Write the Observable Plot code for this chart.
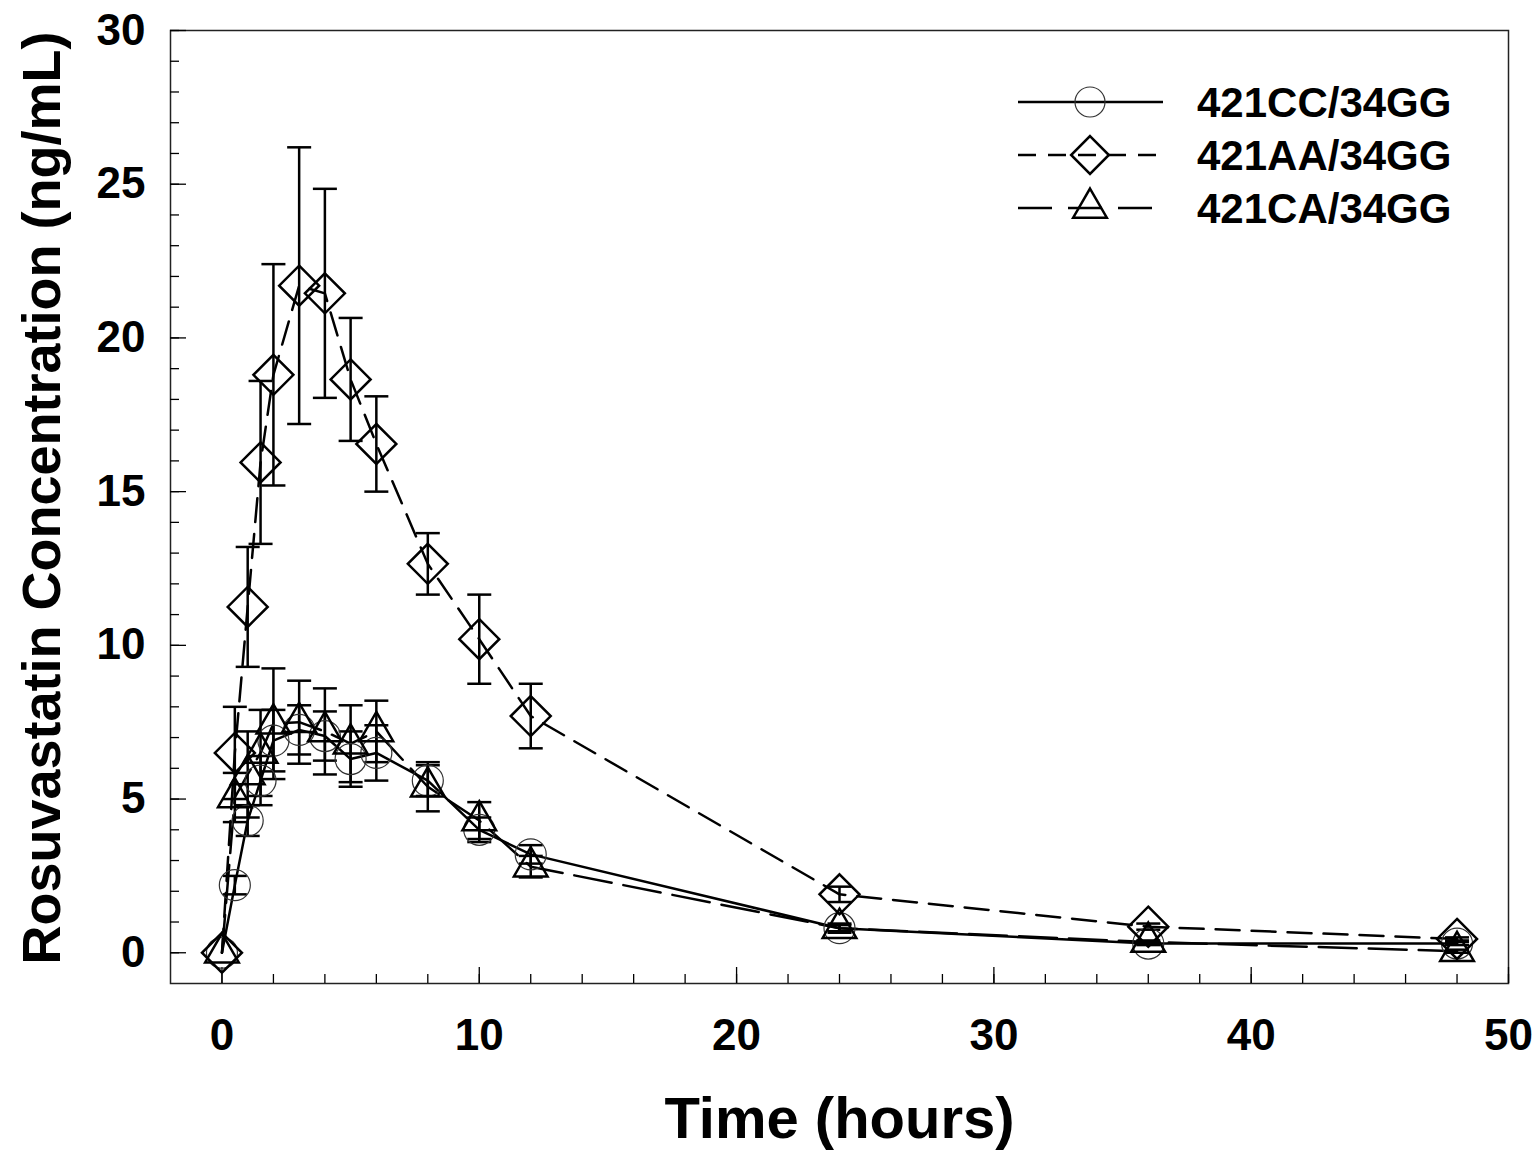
<!DOCTYPE html>
<html><head><meta charset="utf-8">
<script src="https://cdn.jsdelivr.net/npm/d3@7"></script>
<script src="https://cdn.jsdelivr.net/npm/@observablehq/plot@0.6"></script>
<style>
body{margin:0;background:#fff;}
#wrap{position:relative;width:1540px;height:1153px;}
#legend{position:absolute;left:0;top:0;pointer-events:none;}
svg text{font-family:"Liberation Sans",Arial,sans-serif;}
</style></head><body><div id="wrap"></div>
<script>
const times = [0, 0.5, 1, 1.5, 2, 3, 4, 5, 6, 8, 10, 12, 24, 36, 48];
const seriesNames = ["421CC/34GG", "421AA/34GG", "421CA/34GG"];
const ccMean = [0, 2.2, 4.3, 5.6, 6.9, 7.25, 7.05, 6.3, 6.5, 5.6, 4.0, 3.2, 0.8, 0.3, 0.3];
const ccSd   = [0, 0.3, 0.5, 0.8, 1.0, 0.8, 0.8, 0.9, 0.9, 0.5, 0.4, 0.3, 0.15, 0.05, 0.05];
const aaMean = [0, 6.5, 11.25, 15.95, 18.8, 21.7, 21.45, 18.65, 16.55, 12.65, 10.2, 7.7, 1.9, 0.85, 0.45];
const aaSd   = [0, 1.5, 1.95, 2.65, 3.6, 4.5, 3.4, 2.0, 1.55, 1.0, 1.45, 1.05, 0.25, 0.1, 0.05];
const caMean = [0, 5.05, 5.8, 6.5, 7.45, 7.5, 7.2, 6.8, 7.2, 5.4, 4.3, 2.8, 0.8, 0.35, 0.05];
const caSd   = [0, 0.8, 1.4, 1.4, 1.8, 1.35, 1.4, 1.25, 1.0, 0.8, 0.6, 0.35, 0.1, 0.05, 0.05];
const xTicksMajor = [0, 10, 20, 30, 40, 50];
const xTicksMinor = d3.range(0, 51, 2);
const yTicksMajor = [0, 5, 10, 15, 20, 25, 30];
const yTicksMinor = d3.range(0, 31, 1);
const xTitle = "Time (hours)";
const yTitle = "Rosuvastatin Concentration (ng/mL)";

const means = [ccMean, aaMean, caMean];
const sds = [ccSd, aaSd, caSd];
const rows = seriesNames.flatMap((s, k) => times.map((t, i) => ({
  series: s, t, v: means[k][i], sd: sds[k][i],
  lo: means[k][i] - sds[k][i], hi: means[k][i] + sds[k][i]
})));
const bySeries = s => rows.filter(d => d.series === s);
const errRows = rows.filter(d => d.sd > 0);

const capSymbol = {draw(ctx) { ctx.moveTo(-12, 0); ctx.lineTo(12, 0); }};
const dashes = [null, "24,12", "38,12"];

const chart = Plot.plot({
  width: 1540, height: 1153,
  marginLeft: 170, marginRight: 32, marginTop: 30, marginBottom: 170,
  style: {fontFamily: "Liberation Sans, Arial, sans-serif", background: "white", color: "black"},
  x: {domain: [-2, 50]},
  y: {domain: [-1, 30]},
  marks: [
    Plot.frame({stroke: "#222", strokeWidth: 1.5}),
    Plot.axisX(xTicksMinor, {tickSize: -9, tickFormat: () => "", label: null, strokeWidth: 1.3}),
    Plot.axisX(xTicksMajor, {tickSize: -16, tickFormat: () => "", label: null, strokeWidth: 1.3}),
    Plot.axisX(xTicksMajor, {tickSize: 0, tickPadding: 35, fontSize: 44, fontWeight: "bold", label: null}),
    Plot.axisY(yTicksMinor, {tickSize: -9, tickFormat: () => "", label: null, strokeWidth: 1.3}),
    Plot.axisY(yTicksMajor, {tickSize: -16, tickFormat: () => "", label: null, strokeWidth: 1.3}),
    Plot.axisY(yTicksMajor, {tickSize: 0, tickPadding: 25, fontSize: 44, fontWeight: "bold", label: null}),
    Plot.text([xTitle], {frameAnchor: "bottom", dy: 154, lineAnchor: "bottom", fontSize: 58, fontWeight: "bold"}),
    Plot.text([yTitle], {frameAnchor: "left", textAnchor: "middle", rotate: -90, dx: -128, dy: -9, fontSize: 54, fontWeight: "bold"}),
    ...seriesNames.map((s, k) => Plot.line(bySeries(s), {x: "t", y: "v", stroke: "black", strokeWidth: 2.5, strokeDasharray: dashes[k]})),
    Plot.ruleX(errRows, {x: "t", y1: "lo", y2: "hi", stroke: "black", strokeWidth: 2.5}),
    Plot.dot(errRows, {x: "t", y: "hi", symbol: capSymbol, r: 5, stroke: "black", strokeWidth: 2.5, fill: "none"}),
    Plot.dot(errRows, {x: "t", y: "lo", symbol: capSymbol, r: 5, stroke: "black", strokeWidth: 2.5, fill: "none"}),
    Plot.dot(bySeries(seriesNames[0]), {x: "t", y: "v", symbol: "circle", r: 15.5, stroke: "#333", strokeWidth: 1.2, fill: "none"}),
    Plot.dot(bySeries(seriesNames[1]), {x: "t", y: "v", symbol: "diamond2", r: 18, stroke: "black", strokeWidth: 2.5, fill: "none"}),
    Plot.dot(bySeries(seriesNames[2]), {x: "t", y: "v", symbol: "triangle", r: 12.5, stroke: "black", strokeWidth: 2.5, fill: "none"})
  ]
});
const wrap = document.getElementById("wrap");
wrap.appendChild(chart);

// legend overlay
const leg = d3.select(wrap).append("svg").attr("id", "legend").attr("width", 1540).attr("height", 260);
const legSymbols = [d3.symbolCircle, d3.symbolDiamond2, d3.symbolTriangle];
const legSizes = [Math.PI * 15 * 15, Math.PI * 17 * 17, Math.PI * 12.5 * 12.5];
const legStroke = [[1.2, "#333"], [2.5, "black"], [2.5, "black"]];
const legDash = [null, "18,12", "34,16"];
seriesNames.forEach((s, k) => {
  const y = 102 + k * 53;
  leg.append("line").attr("x1", 1018).attr("x2", 1163).attr("y1", y).attr("y2", y)
    .attr("stroke", "black").attr("stroke-width", 2.5).attr("stroke-dasharray", legDash[k]);
  leg.append("path").attr("d", d3.symbol(legSymbols[k], legSizes[k])())
    .attr("transform", `translate(1090,${y})`).attr("fill", "none")
    .attr("stroke", legStroke[k][1]).attr("stroke-width", legStroke[k][0]);
  leg.append("text").attr("x", 1197).attr("y", y).attr("dy", "0.36em")
    .attr("font-size", 42).attr("font-weight", "bold").text(s);
});
</script></body></html>
